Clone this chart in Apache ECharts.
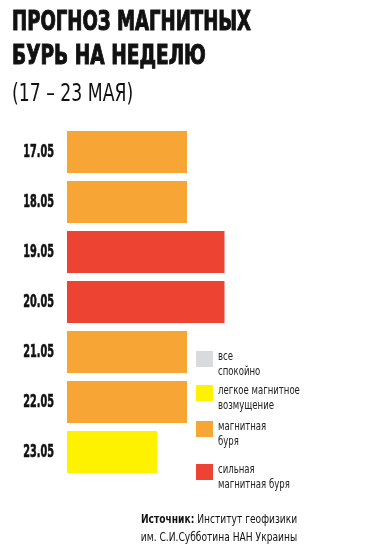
<!DOCTYPE html>
<html>
<head>
<meta charset="utf-8">
<script src="https://cdn.jsdelivr.net/npm/echarts@6/dist/echarts.min.js"></script>
<style>
html,body{margin:0;padding:0;background:#fff;}
#chart{width:385px;height:551px;}
</style>
</head>
<body>
<div id="chart"></div>
<script>
// ---- data ----
const dates = ['17.05', '18.05', '19.05', '20.05', '21.05', '22.05', '23.05'];
const dayLevel = [2, 2, 3, 3, 2, 2, 1];            // index into levelNames
const levelNames = ['все\nспокойно', 'легкое магнитное\nвозмущение', 'магнитная\nбуря', 'сильная\nмагнитная буря'];
const levelValues = [2, 3, 4, 5.25];               // bar length for each level
const levelColors = ['#D9DADB', '#FFF200', '#F7A535', '#EC4332'];
const titleLines = ['ПРОГНОЗ МАГНИТНЫХ', 'БУРЬ НА НЕДЕЛЮ'];
const subtitle = '(17 – 23 МАЯ)';
const sourceBold = 'Источник:';
const sourceLine1 = ' Институт геофизики';
const sourceLine2 = 'им. С.И.Субботина НАН Украины';

const FONT = '"DejaVu Sans Condensed", "Liberation Sans Narrow", sans-serif';

const series = levelNames.map((name, li) => ({
  name: name,
  type: 'bar',
  stack: 'all',
  barWidth: 42,
  itemStyle: { color: levelColors[li] },
  data: dayLevel.map(l => (l === li ? levelValues[li] : null)),
  silent: true
}));

const chart = echarts.init(document.getElementById('chart'), null, { renderer: 'canvas' });
chart.setOption({
  backgroundColor: '#fff',
  animation: false,
  grid: { left: 67, top: 127, width: 300, height: 350 },
  xAxis: { type: 'value', min: 0, max: 10, show: false },
  yAxis: {
    type: 'category', data: dates, inverse: true,
    axisLine: { show: false }, axisTick: { show: false }, splitLine: { show: false },
    axisLabel: { show: false }
  },
  series: series
});

// category labels placed through the category axis scale, condensed horizontally
const labelGraphics = dates.map(d => {
  const py = chart.convertToPixel({ yAxisIndex: 0 }, d);
  return {
    type: 'text', x: 54, y: py + 0.5, scaleX: 0.6, scaleY: 1,
    style: { text: d, font: 'bold 18px ' + FONT, fill: '#111', stroke: '#111', lineWidth: 0.6,
             align: 'right', verticalAlign: 'middle' }
  };
});

const legendTops = [351, 385, 421, 464];
const legendGraphics = [];
levelNames.forEach((name, i) => {
  legendGraphics.push({
    type: 'rect', x: 196, y: legendTops[i],
    shape: { width: 17, height: 16 },
    style: { fill: levelColors[i] }
  });
  legendGraphics.push({
    type: 'text', x: 218, y: legendTops[i] - 2, scaleX: 0.73,
    style: { text: name, font: '13px ' + FONT, fill: '#222', lineHeight: 15, verticalAlign: 'top' }
  });
});

chart.setOption({
  graphic: [
    { type: 'text', x: 12, y: 9, scaleX: 0.745,
      style: { text: titleLines[0], font: 'bold 27px ' + FONT, fill: '#111', stroke: '#111', lineWidth: 1, verticalAlign: 'top' } },
    { type: 'text', x: 12, y: 43, scaleX: 0.765,
      style: { text: titleLines[1], font: 'bold 27px ' + FONT, fill: '#111', stroke: '#111', lineWidth: 1, verticalAlign: 'top' } },
    { type: 'text', x: 12, y: 83, scaleX: 0.8,
      style: { text: subtitle, font: '24px ' + FONT, fill: '#111', verticalAlign: 'top' } },
    ...labelGraphics,
    ...legendGraphics,
    {
      type: 'text', x: 219, y: 511, scaleX: 0.78,
      style: {
        text: '{b|' + sourceBold + '}{r|' + sourceLine1 + '}\n{r|' + sourceLine2 + '}',
        align: 'center', verticalAlign: 'top',
        fill: '#111',
        rich: {
          b: { font: 'bold 13px ' + FONT, fill: '#111', lineHeight: 18 },
          r: { font: '13px ' + FONT, fill: '#111', lineHeight: 18 }
        }
      }
    }
  ]
});
</script>
</body>
</html>
